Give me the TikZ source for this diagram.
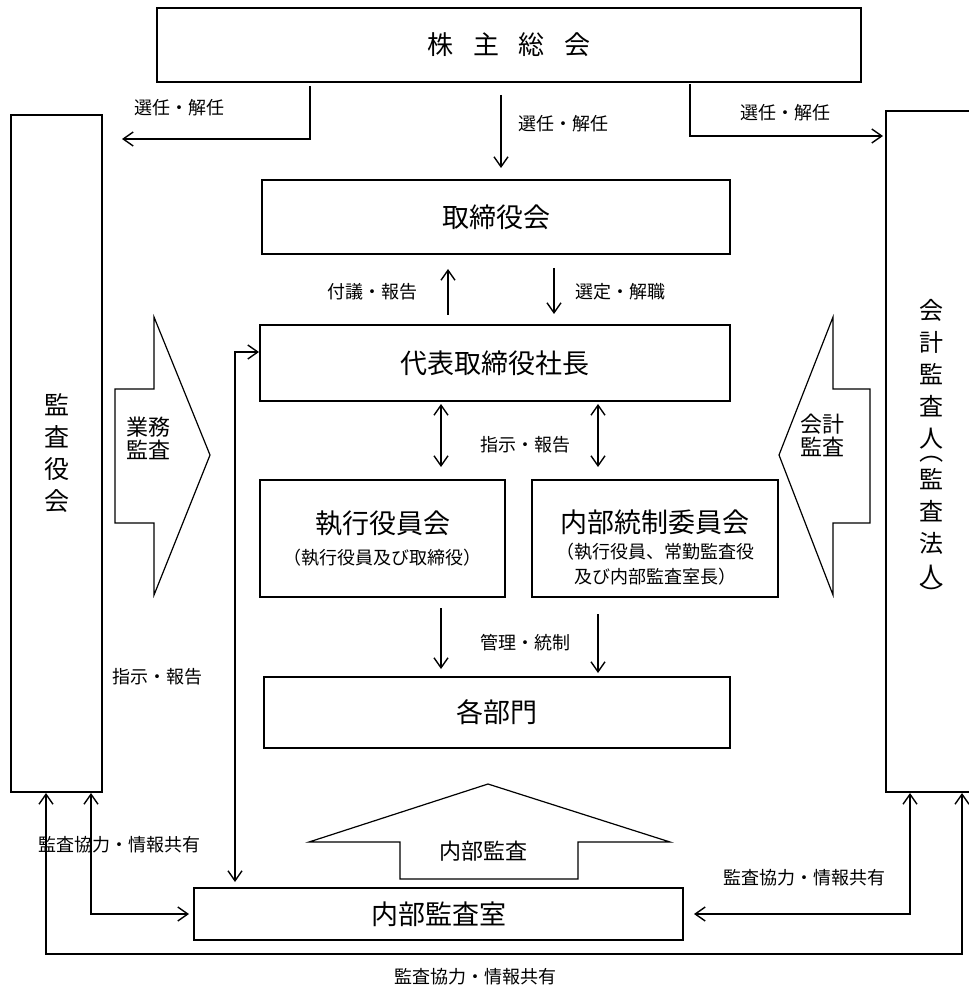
\documentclass[tikz,border=0pt]{standalone}
\usepackage{fontspec}
\setmainfont{Noto Sans CJK JP}
\usetikzlibrary{arrows.meta}

\begin{document}
\begin{tikzpicture}[
		x=0.5pt, y=-0.5pt,
		box/.style={draw, line width=1pt, inner sep=0pt, font=\fontsize{13.5}{16}\selectfont},
		lbl/.style={inner sep=0pt, font=\fontsize{9}{11}\selectfont},
		small/.style={inner sep=0pt, font=\fontsize{11}{11.5}\selectfont, align=center},
		arr/.style={line width=0.7pt, -{Straight Barb[length=5pt,width=7pt]}},
		darr/.style={line width=0.7pt, {Straight Barb[length=5pt,width=7pt]}-{Straight Barb[length=5pt,width=7pt]}},
		fat/.style={draw, line width=0.6pt}
	]
		\useasboundingbox (0,0) rectangle (968,988);

		\node[box, minimum width=352pt, minimum height=37pt, font=\fontsize{13}{16}\selectfont] (kabunushi) at (509,45) {株\kern10pt 主\kern10pt 総\kern10pt 会};
		\node[box, minimum width=234pt, minimum height=37pt] (torishimari) at (496,217) {取締役会};
		\node[box, minimum width=235pt, minimum height=38pt] (daihyo) at (495,363) {代表取締役社長};
		\node[box, minimum width=122.5pt, minimum height=58.5pt, align=center] (shikko) at (382.5,538.5)
			{執行役員会\\[-0.5pt]{\fontsize{9}{11}\selectfont （執行役員及び取締役）}};
		\node[box, minimum width=123pt, minimum height=58.5pt, align=center] (naibu) at (655,538.5)
			{\mbox{}\\[4pt]内部統制委員会\\[-3pt]{\fontsize{9}{11}\selectfont （執行役員、常勤監査役}\\[-3.5pt]{\fontsize{9}{11}\selectfont 及び内部監査室長）}};
		\node[box, minimum width=233pt, minimum height=35.5pt] (kakubumon) at (497,712.5) {各部門};
		\node[box, minimum width=244.5pt, minimum height=26pt] (naibukansa) at (438.5,914) {内部監査室};
		\node[box, minimum width=45.5pt, minimum height=338.5pt, align=center, font=\fontsize{12.5}{16}\selectfont] (kansayaku) at (56.5,453.5)
			{監\\査\\役\\会};
		\node[box, minimum width=45.5pt, minimum height=340.5pt, align=center, font=\fontsize{12}{16}\selectfont] (kaikei) at (931.5,451.5)
			{会\\計\\監\\査\\人\\[-9pt]\smash{\rotatebox[origin=c]{-90}{（}}\\[-2.5pt]監\\査\\法\\人\\[-6pt]\smash{\rotatebox[origin=c]{-90}{）}}};

		\draw[fat] (115,389) -- (154,389) -- (154,317) -- (210,455) -- (154,595) -- (154,523) -- (115,523) -- cycle;
		\draw[fat] (870,389) -- (833,389) -- (833,317) -- (779,455) -- (833,595) -- (833,523) -- (870,523) -- cycle;
		\draw[fat] (400,879) -- (400,842) -- (309,842) -- (488,784) -- (670,842) -- (578,842) -- (578,879) -- cycle;
		\node[small] (gyomu) at (148,438.5) {業務\\監査};
		\node[small] (kaikeikansa) at (822,435.5) {会計\\監査};
		\node[small] (naibukansalbl) at (483,851) {内部監査};

		\node[lbl] (senninL) at (179,108) {選任・解任};
		\node[lbl] (senninM) at (563,124) {選任・解任};
		\node[lbl] (senninR) at (785,113) {選任・解任};
		\node[lbl] (fugi) at (372,292) {付議・報告};
		\node[lbl] (sentei) at (620,292) {選定・解職};
		\node[lbl] (shijiM) at (525,445) {指示・報告};
		\node[lbl] (kanri) at (525,643) {管理・統制};
		\node[lbl] (shijiL) at (157,677) {指示・報告};
		\node[lbl] (kyoryokuL) at (119,845) {監査協力・情報共有};
		\node[lbl] (kyoryokuR) at (804,878) {監査協力・情報共有};
		\node[lbl] (kyoryokuB) at (475,977) {監査協力・情報共有};

		\coordinate (selL) at (122,139);
		\coordinate (selR) at (883,136);
		\coordinate (A) at (310,0);
		\coordinate (B) at (501,0);
		\coordinate (C) at (690,0);
		\coordinate (D) at (448,0);
		\coordinate (E) at (554,0);
		\coordinate (F) at (441,0);
		\coordinate (G) at (598,0);
		\coordinate (H) at (235,0);
		\coordinate (I) at (91,0);
		\coordinate (J) at (910,0);
		\coordinate (K) at (46,954);
		\coordinate (L) at (962,954);

		\draw[arr, shorten <=1.5pt] (kabunushi.south -| A) |- (selL);
		\draw[arr, shorten <=6pt, shorten >=5.5pt] (kabunushi.south -| B) -- (torishimari.north -| B);
		\draw[arr, shorten <=0.5pt] (kabunushi.south -| C) |- (selR);
		\draw[arr, shorten <=4.5pt, shorten >=7pt] (daihyo.north -| D) -- (torishimari.south -| D);
		\draw[arr, shorten <=6.5pt, shorten >=5pt] (torishimari.south -| E) -- (daihyo.north -| E);
		\draw[darr, shorten <=1pt, shorten >=6pt] (daihyo.south -| F) -- (shikko.north -| F);
		\draw[darr, shorten <=1pt, shorten >=6pt] (daihyo.south -| G) -- (naibu.north -| G);
		\draw[arr, shorten <=5pt, shorten >=3.5pt] (shikko.south -| F) -- (kakubumon.north -| F);
		\draw[arr, shorten <=8pt, shorten >=1.5pt] (naibu.south -| G) -- (kakubumon.north -| G);
		\draw[darr, shorten >=2.5pt] ([yshift=5.5pt]daihyo.west) -| (naibukansa.north -| H);
		\draw[darr, shorten >=2pt] (kansayaku.south -| I) |- (naibukansa.west);
		\draw[darr, shorten >=5pt] (kaikei.south -| J) |- (naibukansa.east);
		\draw[darr] (kansayaku.south -| K) -- (K) -- (L) -- (kaikei.south -| L);
	\end{tikzpicture}
\end{document}
